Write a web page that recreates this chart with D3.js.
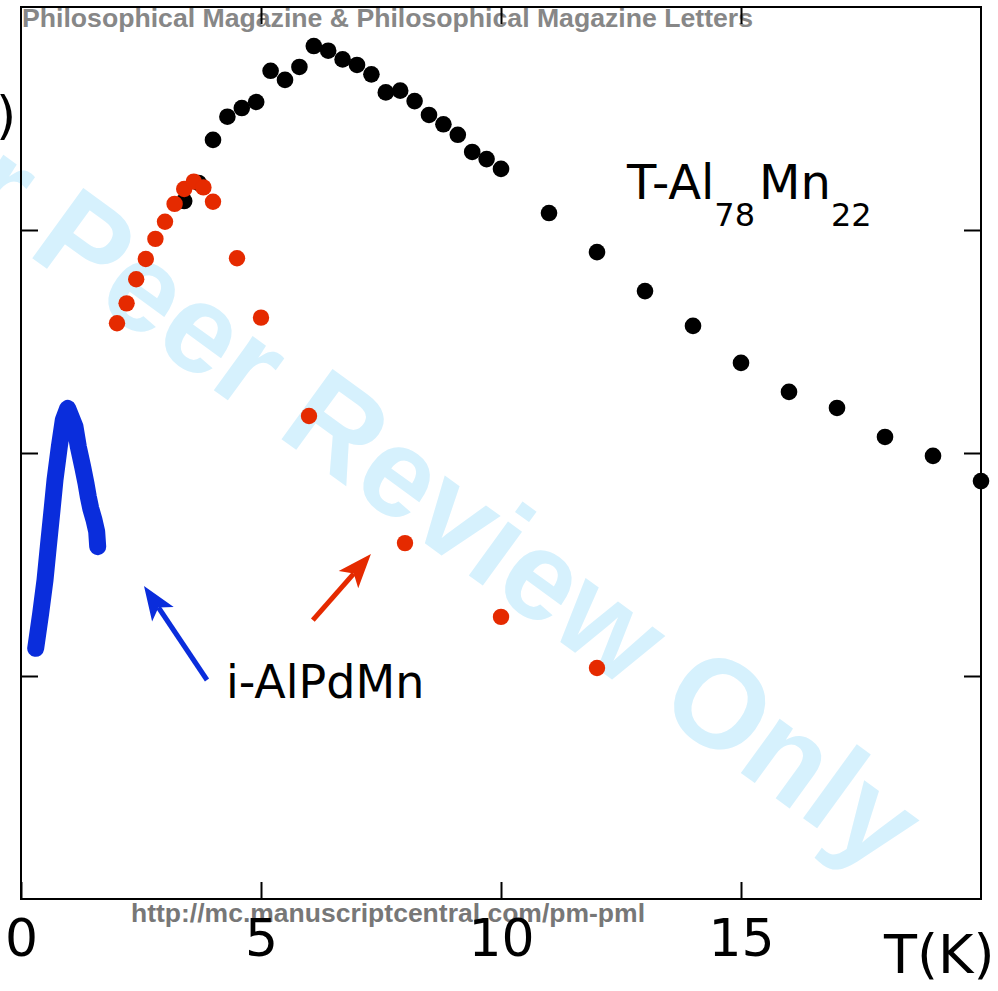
<!doctype html>
<html>
<head>
<meta charset="utf-8"/>
<title>T-Al78Mn22 and i-AlPdMn</title>
<script src="https://d3js.org/d3.v7.min.js"></script>
<style>
body { margin:0; background:#fff; }
</style>
</head>
<body>
<script type="text/javascript">
// ---- data ----
var tAlMnT = [3.4,3.7,4.0,4.3,4.6,4.9,5.2,5.5,5.8,6.1,6.4,6.7,7.0,7.3,7.6,7.9,8.2,8.5,8.8,9.1,9.4,9.7,10.0,
              11,12,13,14,15,16,17,18,19,20];
var tAlMnV = [3.130,3.211,3.404,3.508,3.547,3.574,3.714,3.673,3.731,3.825,3.804,3.765,3.740,3.698,3.617,3.625,
              3.578,3.516,3.474,3.427,3.350,3.318,3.274,
              3.076,2.901,2.726,2.570,2.404,2.274,2.202,2.072,1.987,1.874];

var redT = [2.0,2.2,2.4,2.6,2.8,3.0,3.2,3.4,3.6,3.8,4.0,4.5,5.0,6.0,8.0,10.0,12.0];
var redV = [2.582,2.671,2.779,2.870,2.960,3.037,3.117,3.184,3.217,3.191,3.127,2.873,2.607,2.166,1.596,1.265,1.036];

var iAlPdMnT = [0.306,0.410,0.500,0.569,0.640,0.708,0.798,0.881,0.973,1.125,1.194,1.285,1.354,1.402,1.452,1.521,1.577,1.598];
var iAlPdMnV = [1.124,1.281,1.430,1.580,1.730,1.879,2.028,2.148,2.200,2.118,2.028,1.938,1.864,1.804,1.752,1.700,1.647,1.580];

var xTicks = [0,5,10,15];
var yTicks = [1,2,3];

// arrows: [tailT, tailV, tipT, tipV]
var redArrow  = [6.08,1.251,7.29,1.547];
var blueArrow = [3.875,0.982,2.5625,1.404];

// ---- layout ----
var W = 998, H = 991;
var mLeft = 21, mRight = 981, mTop = 7, mBottom = 899;
var red = "#e52a00", blue = "#0a2ddc";

var svg = d3.select("body").append("svg")
    .attr("width", W).attr("height", H);

var x = d3.scaleLinear().domain([0,20]).range([mLeft,mRight]);
var y = d3.scaleLinear().domain([0,4]).range([mBottom,mTop]);

// watermarks (behind everything)
svg.append("text")
    .attr("transform", "translate(357,494) rotate(36)")
    .attr("text-anchor", "middle")
    .style("font-family", "'Liberation Sans', Arial, sans-serif")
    .style("font-weight", "bold")
    .style("font-size", "126px")
    .attr("fill", "#d6f1fd")
    .text("For Peer Review Only");

svg.append("text")
    .attr("x", 22).attr("y", 27)
    .attr("textLength", 731).attr("lengthAdjust", "spacingAndGlyphs")
    .style("font-family", "'Liberation Sans', Arial, sans-serif")
    .style("font-weight", "bold").style("font-size", "25px")
    .attr("fill", "#878787")
    .text("Philosophical Magazine & Philosophical Magazine Letters");

svg.append("text")
    .attr("x", 131).attr("y", 922)
    .attr("textLength", 514).attr("lengthAdjust", "spacingAndGlyphs")
    .style("font-family", "'Liberation Sans Narrow', 'Liberation Sans', Arial, sans-serif")
    .style("font-weight", "bold").style("font-size", "26px")
    .attr("fill", "#777777")
    .text("http://mc.manuscriptcentral.com/pm-pml");

// frame
svg.append("rect")
    .attr("x", mLeft).attr("y", mTop)
    .attr("width", mRight-mLeft).attr("height", mBottom-mTop)
    .attr("fill", "none").attr("stroke", "#000").attr("stroke-width", 2);

// axes with inward ticks
var gx = svg.append("g").attr("transform", "translate(0," + mBottom + ")")
    .call(d3.axisBottom(x).tickValues(xTicks).tickSizeInner(-17).tickSizeOuter(0).tickPadding(20));
var gTop = svg.append("g").attr("transform", "translate(0," + mTop + ")")
    .call(d3.axisTop(x).tickValues([5,10,15]).tickSizeInner(-17).tickSizeOuter(0).tickFormat(""));
var gl = svg.append("g").attr("transform", "translate(" + mLeft + ",0)")
    .call(d3.axisLeft(y).tickValues(yTicks).tickSizeInner(-17).tickSizeOuter(0).tickFormat(""));
var gr = svg.append("g").attr("transform", "translate(" + mRight + ",0)")
    .call(d3.axisRight(y).tickValues(yTicks).tickSizeInner(-17).tickSizeOuter(0).tickFormat(""));

[gx, gTop, gl, gr].forEach(function(g){
    g.select(".domain").remove();
    g.selectAll(".tick line").attr("stroke", "#000").attr("stroke-width", 2);
});
gx.selectAll(".tick text")
    .style("font-family", "'DejaVu Sans', sans-serif")
    .style("font-size", "52px")
    .attr("fill", "#000");

svg.append("text")
    .attr("x", 884).attr("y", 973)
    .style("font-family", "'DejaVu Sans', sans-serif")
    .style("font-size", "54px")
    .text("T(K)");

// cut-off y label remnant
svg.append("text")
    .attr("x", -4).attr("y", 133)
    .style("font-family", "'DejaVu Sans', sans-serif")
    .style("font-size", "52px")
    .text(")");

// i-AlPdMn thick curve
var line = d3.line().x(function(d){return x(d[0]);}).y(function(d){return y(d[1]);});
svg.append("path")
    .datum(iAlPdMnT.map(function(t,i){return [t, iAlPdMnV[i]];}))
    .attr("d", line)
    .attr("fill", "none").attr("stroke", blue)
    .attr("stroke-width", 17)
    .attr("stroke-linecap", "round").attr("stroke-linejoin", "round");

// black points then red on top
svg.selectAll("circle.blk")
    .data(tAlMnT).enter().append("circle")
    .attr("class", "blk")
    .attr("cx", function(d){return x(d);})
    .attr("cy", function(d,i){return y(tAlMnV[i]);})
    .attr("r", 8.3).attr("fill", "#000");

svg.selectAll("circle.red")
    .data(redT).enter().append("circle")
    .attr("class", "red")
    .attr("cx", function(d){return x(d);})
    .attr("cy", function(d,i){return y(redV[i]);})
    .attr("r", 8.2).attr("fill", red);

// arrows
function arrow(a, col) {
    var x1 = x(a[0]), y1 = y(a[1]), x2 = x(a[2]), y2 = y(a[3]);
    var ang = Math.atan2(y2-y1, x2-x1);
    var hl = 34, hw = 13;
    var bx = x2 - hl*Math.cos(ang), by = y2 - hl*Math.sin(ang);
    svg.append("line")
        .attr("x1", x1).attr("y1", y1)
        .attr("x2", bx + 8*Math.cos(ang)).attr("y2", by + 8*Math.sin(ang))
        .attr("stroke", col).attr("stroke-width", 5);
    var p = [[x2,y2],
             [bx - hw*Math.sin(ang), by + hw*Math.cos(ang)],
             [bx + 8*Math.cos(ang), by + 8*Math.sin(ang)],
             [bx + hw*Math.sin(ang), by - hw*Math.cos(ang)]];
    svg.append("path").attr("d", "M" + p.join("L") + "Z").attr("fill", col);
}
arrow(redArrow, red);
arrow(blueArrow, blue);

// labels
var lab = svg.append("text")
    .attr("x", 627).attr("y", 199)
    .style("font-family", "'DejaVu Sans', sans-serif")
    .style("font-size", "48px");
lab.append("tspan").text("T-Al");
lab.append("tspan").attr("dy", 27).style("font-size", "32px").text("78");
lab.append("tspan").attr("dy", -27).attr("dx", 4).text("Mn");
lab.append("tspan").attr("dy", 27).style("font-size", "32px").text("22");

svg.append("text")
    .attr("x", 226).attr("y", 698)
    .style("font-family", "'DejaVu Sans', sans-serif")
    .style("font-size", "46px")
    .text("i-AlPdMn");
</script>
</body>
</html>
